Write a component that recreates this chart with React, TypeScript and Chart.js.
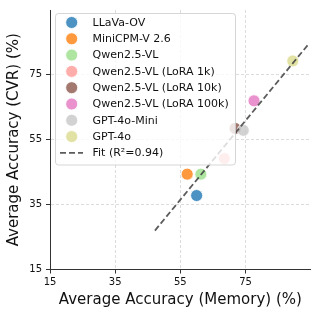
import { useEffect, useRef } from 'react';
import { Chart, registerables } from 'chart.js';

Chart.register(...registerables);

const models = [
  'LLaVa-OV',
  'MiniCPM-V 2.6',
  'Qwen2.5-VL',
  'Qwen2.5-VL (LoRA 1k)',
  'Qwen2.5-VL (LoRA 10k)',
  'Qwen2.5-VL (LoRA 100k)',
  'GPT-4o-Mini',
  'GPT-4o',
];
const memoryAccuracy = [60.0, 57.1, 61.3, 68.5, 71.8, 77.6, 74.3, 89.5];
const cvrAccuracy = [37.8, 44.4, 44.4, 49.2, 58.5, 67.0, 57.9, 79.3];
const modelColors = [
  'rgba(31,119,180,0.8)',
  'rgba(255,127,14,0.8)',
  'rgba(152,223,138,0.8)',
  'rgba(255,152,150,0.8)',
  'rgba(140,86,75,0.8)',
  'rgba(227,119,194,0.8)',
  'rgba(199,199,199,0.8)',
  'rgba(219,219,141,0.8)',
];
const fitX = [47.2, 94.6];
const fitY = [27.0, 84.8];
const fitLabel = 'Fit (R\u00b2=0.94)';
const axisTicks = [15, 35, 55, 75];
const axisMin = 15;
const axisMax = 95;

const FONT = '"DejaVu Sans", sans-serif';
const FIT_COLOR = 'rgba(64,64,64,0.85)';

const legendPlugin = {
  id: 'insideLegend',
  afterDraw(chart: any) {
    const ctx = chart.ctx as CanvasRenderingContext2D;
    const x0 = 55.5;
    const y0 = 13.5;
    const w = 180;
    const h = 151.5;
    ctx.save();
    ctx.beginPath();
    (ctx as any).roundRect(x0, y0, w, h, 3);
    ctx.fillStyle = 'rgba(255,255,255,0.8)';
    ctx.fill();
    ctx.strokeStyle = 'rgba(204,204,204,0.8)';
    ctx.lineWidth = 1;
    ctx.stroke();

    const rowStart = 22.5;
    const rowStep = 16.3;
    const markerX = 71.7;
    const textX = 92.5;
    ctx.font = `11px ${FONT}`;
    ctx.textBaseline = 'middle';
    ctx.textAlign = 'left';
    const ds = chart.data.datasets;
    ds.forEach((d: any, i: number) => {
      const y = rowStart + i * rowStep;
      if (d.showLine) {
        ctx.save();
        ctx.strokeStyle = d.borderColor;
        ctx.lineWidth = d.borderWidth;
        ctx.setLineDash(d.borderDash);
        ctx.beginPath();
        ctx.moveTo(60, y);
        ctx.lineTo(83, y);
        ctx.stroke();
        ctx.restore();
      } else {
        ctx.beginPath();
        ctx.arc(markerX, y, 6, 0, Math.PI * 2);
        ctx.fillStyle = d.backgroundColor;
        ctx.fill();
        ctx.strokeStyle = 'rgba(255,255,255,0.8)';
        ctx.lineWidth = 1;
        ctx.stroke();
      }
      ctx.fillStyle = '#111';
      ctx.fillText(d.label, textX, y + 0.5);
    });
    ctx.restore();
  },
};

function axisOptions(title: string, isX: boolean) {
  return {
    type: 'linear' as const,
    min: axisMin,
    max: axisMax,
    afterBuildTicks: (scale: any) => {
      scale.ticks = axisTicks.map((v) => ({ value: v }));
    },
    afterFit: (scale: any) => {
      if (isX) scale.height = 46.5;
      else scale.width = 50;
    },
    ticks: {
      font: { size: 10, family: FONT },
      color: '#111',
      padding: isX ? 3 : 4,
      maxRotation: 0,
      autoSkip: false,
    },
    grid: {
      color: '#dcdcdc',
      lineWidth: 1,
      tickLength: 4,
      tickColor: '#333',
      tickWidth: 1,
    },
    border: { color: '#333', width: 1, dash: [3, 2] },
    title: {
      display: true,
      text: title,
      font: { size: 15, family: FONT },
      color: '#111',
      padding: isX ? { top: 0, bottom: 7 } : { top: 5, bottom: 0 },
    },
  };
}

export default function App() {
  const canvasRef = useRef<HTMLCanvasElement | null>(null);

  useEffect(() => {
    if (!canvasRef.current) return;
    const modelSets = models.map((m, i) => ({
      label: m,
      data: [{ x: memoryAccuracy[i], y: cvrAccuracy[i] }],
      backgroundColor: modelColors[i],
      borderColor: 'rgba(255,255,255,0.8)',
      borderWidth: 1,
      pointRadius: 6,
      pointHoverRadius: 6,
      order: 10 - i,
    }));
    const fitSet = {
      label: fitLabel,
      data: fitX.map((x, i) => ({ x, y: fitY[i] })),
      showLine: true,
      borderColor: FIT_COLOR,
      borderWidth: 1.8,
      borderDash: [6, 3],
      pointRadius: 0,
      pointHoverRadius: 0,
      backgroundColor: FIT_COLOR,
      order: 0,
    };
    const chart = new Chart(canvasRef.current, {
      type: 'scatter',
      data: { datasets: [...modelSets, fitSet] as any },
      options: {
        animation: false,
        responsive: false,
        devicePixelRatio: 1,
        events: [],
        layout: { padding: { top: 8, right: 8.3, left: 0, bottom: 0 } },
        plugins: {
          legend: { display: false },
          tooltip: { enabled: false },
        },
        scales: {
          x: axisOptions('Average Accuracy (Memory) (%)', true),
          y: axisOptions('Average Accuracy (CVR) (%)', false),
        } as any,
      },
      plugins: [legendPlugin],
    });
    return () => chart.destroy();
  }, []);

  return (
    <div style={{ position: 'fixed', left: 0, top: 0, width: 319, height: 316, background: '#fff' }}>
      <canvas ref={canvasRef} width={319} height={316} style={{ width: 319, height: 316, display: 'block' }} />
    </div>
  );
}
